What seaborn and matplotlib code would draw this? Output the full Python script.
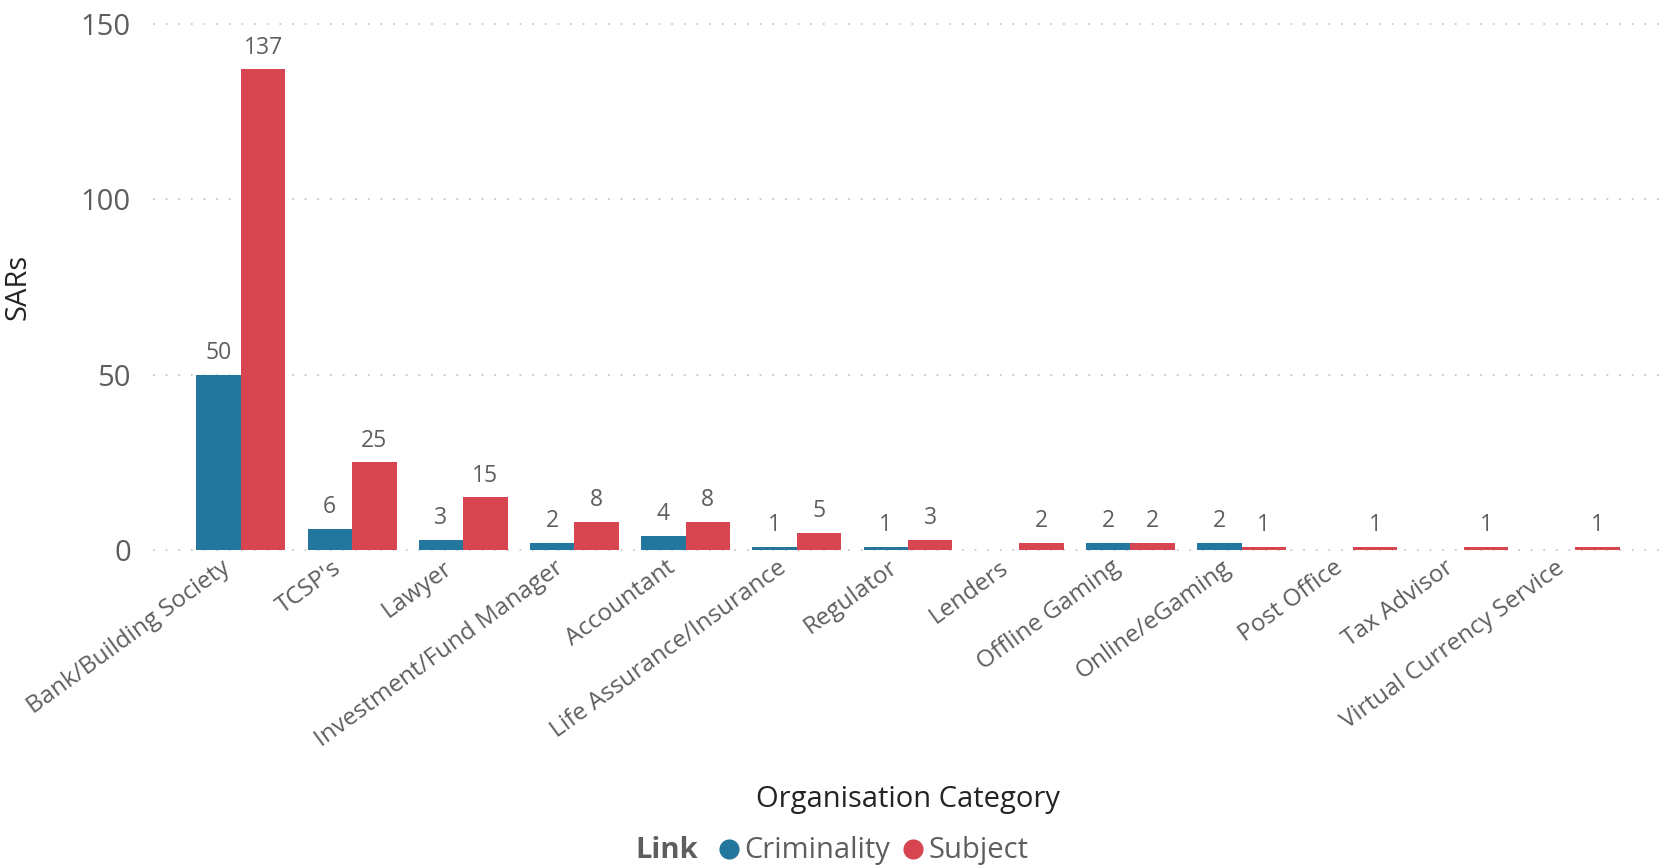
import matplotlib
matplotlib.use("Agg")
import matplotlib.pyplot as plt
from matplotlib.lines import Line2D
from matplotlib.transforms import ScaledTranslation
import numpy as np
import pandas as pd
import seaborn as sns

categories = ["Bank/Building Society", "TCSP's", "Lawyer", "Investment/Fund Manager",
              "Accountant", "Life Assurance/Insurance", "Regulator", "Lenders",
              "Offline Gaming", "Online/eGaming", "Post Office", "Tax Advisor",
              "Virtual Currency Service"]
criminality = [50, 6, 3, 2, 4, 1, 1, None, 2, 2, None, None, None]
subject = [137, 25, 15, 8, 8, 5, 3, 2, 2, 1, 1, 1, 1]
link_levels = ["Criminality", "Subject"]
yticks = [0, 50, 100, 150]

BLUE = "#23779E"
RED = "#D64550"
GREY_TXT = "#605E5C"
DARK_TXT = "#252423"

rows = []
for cat, c, s in zip(categories, criminality, subject):
    if c is not None:
        rows.append({"Organisation Category": cat, "Link": "Criminality", "SARs": c})
    if s is not None:
        rows.append({"Organisation Category": cat, "Link": "Subject", "SARs": s})
df = pd.DataFrame(rows)

sns.set_theme(style="white")
plt.rcParams["font.family"] = ["Open Sans", "DejaVu Sans"]

fig = plt.figure(figsize=(16.74, 8.65), dpi=100)
ax = fig.add_axes([0.0914, 0.364, 0.902, 0.6086])

sns.barplot(data=df, x="Organisation Category", y="SARs", hue="Link",
            order=categories, hue_order=link_levels,
            palette=[BLUE, RED], width=0.8, gap=0, saturation=1,
            errorbar=None, legend=False, linewidth=0, ax=ax)

for cont in ax.containers:
    ax.bar_label(cont, fmt="%d", padding=7, fontsize=16.5, color=GREY_TXT)

ax.set_ylim(0, 150)
ax.set_xlim(-0.79, 12.79)
ax.set_yticks(yticks)
ax.set_yticklabels([str(t) for t in yticks], fontsize=21, color=GREY_TXT)
ax.tick_params(axis="y", length=0, pad=16)
ax.tick_params(axis="x", length=0, pad=4)
shift = ScaledTranslation(-0.20, 0, fig.dpi_scale_trans)
for lbl in ax.get_xticklabels():
    lbl.set_rotation(36)
    lbl.set_ha("right")
    lbl.set_va("top")
    lbl.set_rotation_mode("anchor")
    lbl.set_fontsize(17.5)
    lbl.set_color(GREY_TXT)
    lbl.set_transform(lbl.get_transform() + shift)

for t in yticks:
    ax.axhline(t, color="#C8C8C8", linewidth=1.3, linestyle=(0, (1, 6)),
               zorder=0, clip_on=False)
ax.grid(False)
for sp in ax.spines.values():
    sp.set_visible(False)

ax.set_ylabel("SARs", fontsize=21, color=DARK_TXT)
ax.yaxis.set_label_coords(-0.080, 0.5)
ax.set_xlabel("Organisation Category", fontsize=21, color=DARK_TXT)
ax.xaxis.set_label_coords(0.5, -0.446)

# legend row: bold field name followed by coloured dots and level names
legend_y = 0.017
fig.text(0.3795, legend_y, "Link", fontsize=21, fontweight="bold",
         color=GREY_TXT, ha="left", va="center")
for level, col, xm, xt in zip(link_levels, (BLUE, RED),
                              (0.4355, 0.5454), (0.4444, 0.5544)):
    fig.add_artist(Line2D([xm], [legend_y + 0.002], transform=fig.transFigure,
                          linestyle="none", marker="o", markersize=14.5,
                          markerfacecolor=col, markeredgewidth=0))
    fig.text(xt, legend_y, level, fontsize=21, color=GREY_TXT,
             ha="left", va="center")

fig.savefig("out.png", dpi=100)
